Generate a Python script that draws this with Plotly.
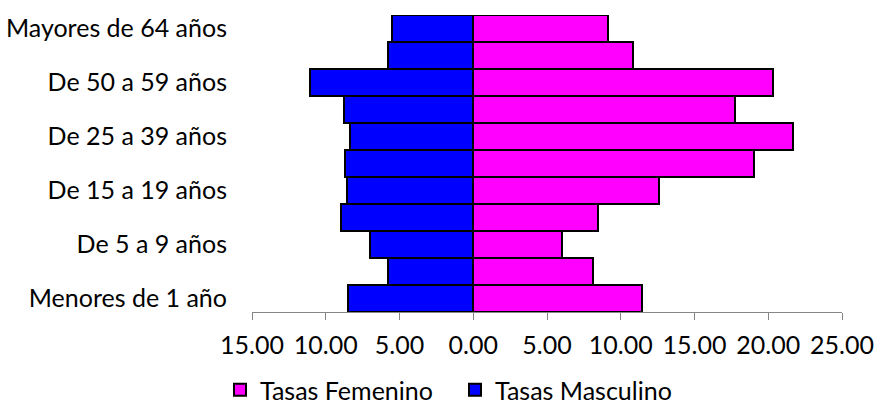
import plotly.graph_objects as go

# Age groups, bottom to top
grupos = [
    "Menores de 1 año",
    "De 1 a 4 años",
    "De 5 a 9 años",
    "De 10 a 14 años",
    "De 15 a 19 años",
    "De 20 a 24 años",
    "De 25 a 39 años",
    "De 40 a 49 años",
    "De 50 a 59 años",
    "De 60 a 64 años",
    "Mayores de 64 años",
]

# Rates per group
tasas_femenino = [11.46, 8.12, 6.04, 8.46, 12.57, 19.04, 21.69, 17.75, 20.33, 10.81, 9.13]
tasas_masculino = [8.46, 5.75, 7.03, 8.96, 8.58, 8.68, 8.37, 8.78, 11.06, 5.79, 5.52]

# Axis ticks (males drawn to the left as negatives, labelled with absolute values)
x_ticks = [-15, -10, -5, 0, 5, 10, 15, 20, 25]
x_tick_text = [f"{abs(v):.2f}" for v in x_ticks]
y_tick_labels = grupos[::2]

FONT = "Lato"
FONT_SIZE = 25
AXIS_GREY = "#868686"

fig = go.Figure()
fig.add_trace(go.Bar(
    y=grupos,
    x=tasas_femenino,
    orientation="h",
    name="Tasas Femenino",
    marker=dict(color="#FF00FF", line=dict(color="black", width=2)),
))
fig.add_trace(go.Bar(
    y=grupos,
    x=[-v for v in tasas_masculino],
    orientation="h",
    name="Tasas Masculino",
    marker=dict(color="#0000FF", line=dict(color="black", width=2)),
))

fig.update_layout(
    width=874,
    height=413,
    margin=dict(l=252, r=32, t=15, b=101, autoexpand=False),
    paper_bgcolor="white",
    plot_bgcolor="white",
    barmode="relative",
    bargap=0,
    font=dict(family=FONT, size=FONT_SIZE, color="black"),
    showlegend=True,
    legend=dict(
        orientation="h",
        xref="container",
        yref="container",
        x=220 / 874,
        xanchor="left",
        y=-6 / 413,
        yanchor="bottom",
        entrywidth=190,
        font=dict(family=FONT, size=FONT_SIZE, color="black"),
        traceorder="normal",
        itemclick=False,
        itemdoubleclick=False,
    ),
    xaxis=dict(
        range=[-15, 25],
        tickvals=x_ticks,
        ticktext=x_tick_text,
        showgrid=False,
        zeroline=False,
        showline=True,
        linecolor=AXIS_GREY,
        linewidth=1,
        ticks="outside",
        ticklen=7,
        tickcolor=AXIS_GREY,
        tickwidth=1,
        ticklabelstandoff=4,
        tickfont=dict(family=FONT, size=FONT_SIZE, color="black"),
        fixedrange=True,
    ),
    yaxis=dict(
        categoryorder="array",
        categoryarray=grupos,
        tickvals=y_tick_labels,
        ticktext=y_tick_labels,
        showgrid=False,
        zeroline=False,
        showline=False,
        ticks="",
        ticklabelstandoff=24,
        tickfont=dict(family=FONT, size=FONT_SIZE, color="black"),
        fixedrange=True,
    ),
)

fig.write_html("out.html")
